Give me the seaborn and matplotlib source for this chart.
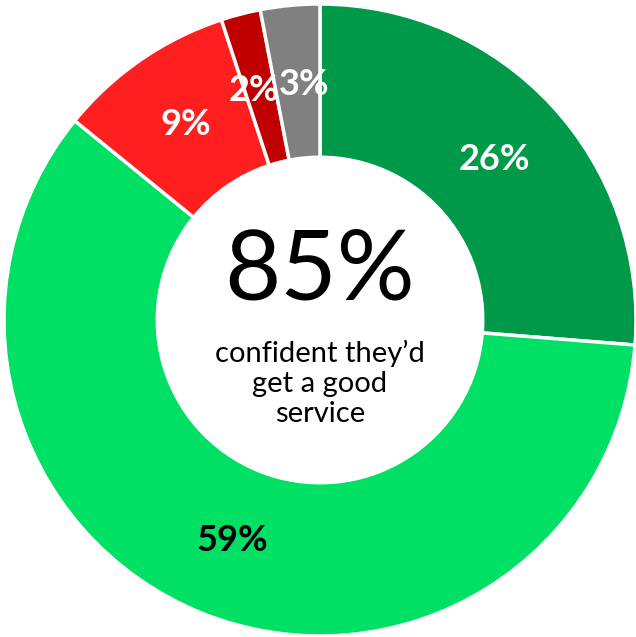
import matplotlib
matplotlib.use("Agg")
import matplotlib.pyplot as plt
import seaborn as sns
import numpy as np

# slices, clockwise from 12 o'clock
segments = ["Very confident", "Fairly confident", "Not very confident", "Not at all confident", "Don't know"]
shares = [26, 59, 9, 2, 3]
labels = ["26%", "59%", "9%", "2%", "3%"]
label_colors = ["white", "black", "white", "white", "white"]
colors = ["#00994A", "#00E065", "#FF1F1F", "#C00000", "#808080"]

headline = "85%"
subtitle = "confident they\u2019d\nget a good\nservice"

sns.set_theme(style="white")
plt.rcParams["font.family"] = ["Lato", "DejaVu Sans"]

fig = plt.figure(figsize=(6.36, 6.37), dpi=100)
ax = fig.add_axes([0, 0, 1, 1])

wedges, _ = ax.pie(
    shares,
    colors=colors,
    startangle=90,
    counterclock=False,
    radius=1,
    wedgeprops=dict(width=0.485, edgecolor="white", linewidth=2.5),
)

# percentage labels in the ring; the two thin slices get a small push apart
nudge = [0, 0, 0, -0.02, 0.02]
for w, lab, c, dx in zip(wedges, labels, label_colors, nudge):
    ang = np.deg2rad((w.theta1 + w.theta2) / 2)
    r = 0.75
    ax.text(r * np.cos(ang) + dx, r * np.sin(ang), lab, ha="center", va="center",
            fontsize=26, fontweight="bold", color=c)

ax.text(0, 0.15, headline, ha="center", va="center", fontsize=70, color="black")
ax.text(0, -0.20, subtitle, ha="center", va="center", fontsize=21,
        color="black", linespacing=1.2)

ax.set_xlim(-320 / 316, 316 / 316)
ax.set_ylim(-317 / 316, 320 / 316)
ax.set_aspect("auto")
ax.axis("off")

fig.savefig("out.png", dpi=100)
